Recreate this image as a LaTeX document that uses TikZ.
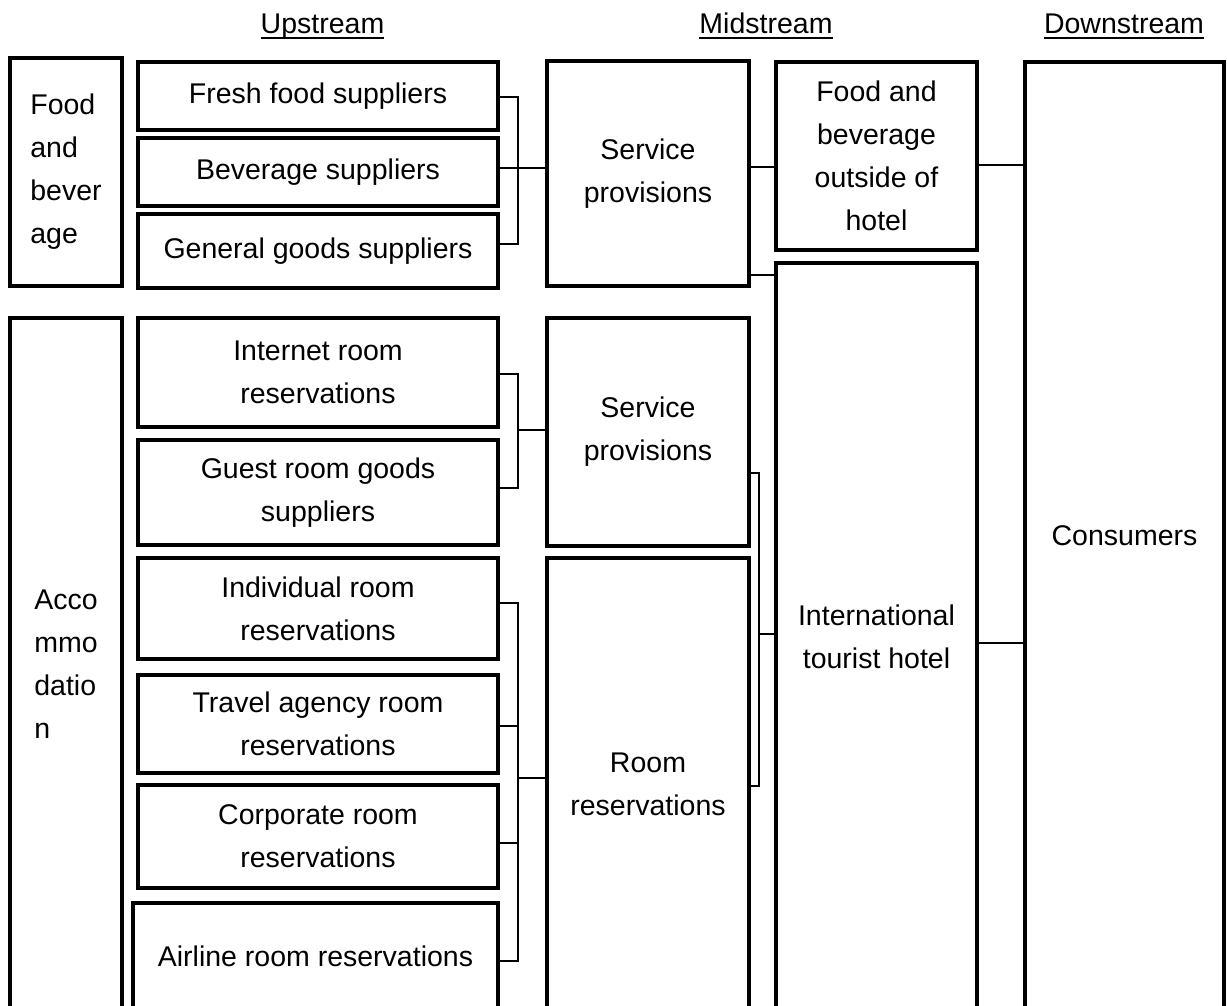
\documentclass[tikz,border=0pt]{standalone}
\usepackage{fontspec}
\setmainfont{Liberation Sans}
\usetikzlibrary{calc}
\begin{document}
\begin{tikzpicture}[x=1pt,y=-1pt,
  bx/.style={draw, line width=4.5pt, inner sep=0pt, align=center,
    font=\fontsize{28.5}{43}\selectfont},
  lbx/.style={bx, align=left},
  ln/.style={draw, line width=2.5pt},
  hd/.style={inner sep=0pt, anchor=base, font=\fontsize{28.5}{43}\selectfont},
  ul/.style={line width=1.6pt}]
\useasboundingbox (0,0) rectangle (1227,1005);
\clip (0,0) rectangle (1227,1005);
% headers
\node[hd] (hup) at (322.5,33) {Upstream};
\node[hd] (hmid) at (766,33) {Midstream};
\node[hd] (hdown) at (1124,33) {Downstream};
\foreach \h in {hup,hmid,hdown}
  \draw[ul] ([yshift=-5pt]\h.base west) -- ([yshift=-5pt]\h.base east);
% left category boxes
\node[lbx, minimum width=112, minimum height=228] (food) at (66,172) {Food\\and\\bever\\age};
\node[lbx, minimum width=112, minimum height=692] (acc) at (66,664) {Acco\\mmo\\datio\\n};
% upstream boxes
\node[bx, minimum width=360, minimum height=68] (fresh) at (318,96) {Fresh food suppliers};
\node[bx, minimum width=360, minimum height=68] (bev) at (318,172) {Beverage suppliers};
\node[bx, minimum width=360, minimum height=74] (gen) at (318,251) {General goods suppliers};
\node[bx, minimum width=360, minimum height=109] (inet) at (318,372.5) {Internet room\\reservations};
\node[bx, minimum width=360, minimum height=105] (guest) at (318,492.5) {Guest room goods\\suppliers};
\node[bx, minimum width=360, minimum height=101] (indiv) at (318,608.5) {Individual room\\reservations};
\node[bx, minimum width=360, minimum height=98] (travel) at (318,724) {Travel agency room\\reservations};
\node[bx, minimum width=360, minimum height=103] (corp) at (318,836.5) {Corporate room\\reservations};
\node[bx, minimum width=365, minimum height=107] (air) at (315.5,956.5) {Airline room reservations};
% midstream boxes
\node[bx, minimum width=202, minimum height=225] (sp1) at (648,173.5) {Service\\provisions};
\node[bx, minimum width=202, minimum height=228] (sp2) at (648,432) {Service\\provisions};
\node[bx, minimum width=202, minimum height=452] (room) at (648,784) {Room\\reservations};
\node[bx, minimum width=201, minimum height=188] (fbo) at (876.5,156) {Food and\\beverage\\outside of\\hotel};
\node[bx, minimum width=201, minimum height=747] (ith) at (876.5,636.5) {International\\tourist hotel};
% downstream
\node[bx, minimum width=199, minimum height=948] (cons) at (1124.5,536) {Consumers};
% bracket coordinates
\coordinate (b1) at (518,168);
\coordinate (b2) at (518,430);
\coordinate (b3) at (518,778);
\coordinate (b4) at (759,634);
% food & beverage bracket
\draw[ln] (fresh.east |- 0,97) -| (b1) |- (gen.east |- 0,244);
\draw[ln] (bev.east |- b1) -- (sp1.west |- b1);
% accommodation service bracket
\draw[ln] (inet.east |- 0,374) -| (b2) |- (guest.east |- 0,488);
\draw[ln] (b2) -- (sp2.west |- b2);
% room reservation bracket
\draw[ln] (indiv.east |- 0,603) -| (b3) |- (air.east |- 0,961);
\draw[ln] (travel.east |- 0,726) -- (b3 |- 0,726);
\draw[ln] (corp.east |- 0,843) -- (b3 |- 0,843);
\draw[ln] (b3) -- (room.west |- b3);
% midstream connections
\draw[ln] (sp1.east |- 0,167) -- (fbo.west |- 0,167);
\draw[ln] (sp1.east |- 0,275) -- (ith.west |- 0,275);
\draw[ln] (sp2.east |- 0,473) -| (b4) |- (room.east |- 0,786);
\draw[ln] (b4) -- (ith.west |- b4);
% downstream connections
\draw[ln] (fbo.east |- 0,165) -- (cons.west |- 0,165);
\draw[ln] (ith.east |- 0,643) -- (cons.west |- 0,643);
\end{tikzpicture}
\end{document}
